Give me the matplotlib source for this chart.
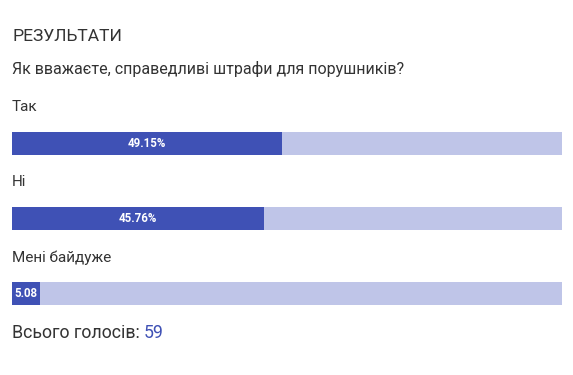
import matplotlib
matplotlib.use("Agg")
import matplotlib.pyplot as plt

# poll data
title = "РЕЗУЛЬТАТИ"
question = "Як вважаєте, справедливі штрафи для порушників?"
options = ["Так", "Ні", "Мені байдуже"]
percents = [49.15, 45.76, 5.08]
bar_labels = ["49.15%", "45.76%", "5.08"]
total_votes = 59

dark = "#3f51b5"
light = "#bfc5e8"
text_col = "#333333"

plt.rcParams['font.family'] = ['Roboto', 'DejaVu Sans']

W, H = 573, 375
fig = plt.figure(figsize=(W / 100, H / 100), dpi=100)
ax = fig.add_axes([0, 0, 1, 1])
ax.set_xlim(0, W)
ax.set_ylim(H, 0)
ax.axis("off")

x0, bar_w = 12, 550
# pixel units per percent
scale = bar_w / 100.0

fig.text(x0 / W, 1 - 41 / H, title, fontsize=12.6, color=text_col,
         va="baseline")
fig.text(x0 / W, 1 - 74 / H, question, fontsize=11.5, color=text_col, va="baseline")

label_base = [111, 186, 262]
bar_center = [143.5, 218.5, 293.5]
for i in range(len(options)):
    fig.text(x0 / W, 1 - label_base[i] / H, options[i], fontsize=11,
             color=text_col, va="baseline")
    ax.barh(bar_center[i], 100 * scale, left=x0, height=23, color=light)
    ax.barh(bar_center[i], percents[i] * scale, left=x0, height=23, color=dark)
    ax.text(x0 + percents[i] * scale / 2, bar_center[i], bar_labels[i],
            ha="center", va="center", color="white", fontsize=8.3,
            fontweight="bold")

t = fig.text(x0 / W, 1 - 338 / H, "Всього голосів: ", fontsize=12.8,
             color=text_col, va="baseline")
fig.canvas.draw()
bb = t.get_window_extent()
fig.text(bb.x1 / W, 1 - 338 / H, str(total_votes), fontsize=12.8,
         color=dark, va="baseline")

fig.savefig("out.png", dpi=100)
